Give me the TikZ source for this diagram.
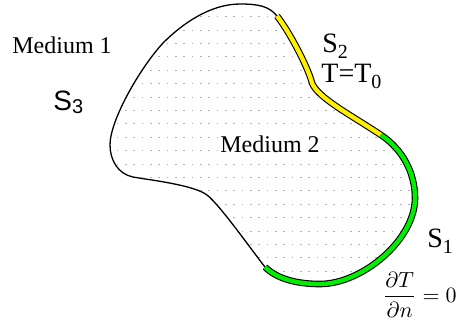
\documentclass[tikz,border=0pt]{standalone}
\usepackage{amsmath}
\usepackage{fontspec}
\setmainfont{Liberation Serif}
\newfontfamily\arialfont{Liberation Sans}
\usetikzlibrary{calc}
\definecolor{bandyellow}{RGB}{255,240,0}
\definecolor{bandgreen}{RGB}{0,238,0}
\definecolor{dotgray}{RGB}{175,175,175}
\newcommand{\lowsub}[3][10]{\raisebox{-#2}{\fontsize{#1}{#1}\selectfont #3}}
% pieces of the boundary (start point given where used)
\newcommand{\yellowpart}{.. controls (289,31) and (308,67) .. (p2) .. controls (318,98) and (351,115) .. (p3)}
\newcommand{\greenpart}{.. controls (402,149) and (415,172) .. (p4) .. controls (415,240) and (362,284) .. (p5) .. controls (295,284) and (276,278) .. (p6)}
\newcommand{\blackpart}{.. controls (253,252) and (220,205) .. (p7) .. controls (194,185) and (150,180) .. (p8) .. controls (118,174) and (110,160) .. (p9) .. controls (110,120) and (140,68) .. (p10) .. controls (182,24) and (210,4) .. (p11) .. controls (258,4) and (269,6) .. (p1)}

\begin{document}
\begin{tikzpicture}[x=0.5pt,y=-0.5pt,
    lbl/.style={inner sep=0pt,font=\rmfamily\fontsize{12}{14}\selectfont},
    biglbl/.style={inner sep=0pt,anchor=base west,font=\rmfamily\fontsize{14}{16}\selectfont},
    band/.style={line width=3.3pt},
    dotrow/.style={dotgray,line width=0.5pt,dash pattern=on 0.8pt off 3.365pt}]
\useasboundingbox (0,0) rectangle (459,329);
\coordinate (p1) at (277,16);
\coordinate (p2) at (312,83);
\coordinate (p3) at (381,135);
\coordinate (p4) at (415,198);
\coordinate (p5) at (320,284);
\coordinate (p6) at (265,267);
\coordinate (p7) at (207,195);
\coordinate (p8) at (133,177);
\coordinate (p9) at (110,145);
\coordinate (p10) at (163,43);
\coordinate (p11) at (240,4);
% dotted inside of medium 2
\begin{scope}
  \clip (p1) \yellowpart \greenpart \blackpart -- cycle;
  \foreach \k in {0,...,20}
    \draw[dotrow] (58.4,{16.7+13.4*\k}) -- (440,{16.7+13.4*\k});
\end{scope}
\draw[line width=0.65pt] (p6) \blackpart;
\draw[band] (p1) \yellowpart;
\draw[band,line width=2.2pt,bandyellow] (p1) \yellowpart;
\draw[band] (p3) \greenpart;
\draw[band,line width=2.2pt,bandgreen] (p3) \greenpart;
% labels
\node[lbl,anchor=base] (med1) at (62,53) {Medium 1};
\node[inner sep=0pt,anchor=base west,font=\arialfont\fontsize{14}{16}\selectfont] (s3) at (53,110) {S\lowsub{1.5pt}{3}};
\node[lbl,anchor=base west,fill=white] (med2) at (220,152) {Medium 2};
\node[biglbl] (s2) at (322,52) {S\lowsub{3pt}{2}};
\node[biglbl] (tt) at (321,82) {T=T\lowsub{3pt}{0}};
\node[biglbl] (s1) at (427,247) {S\lowsub{3pt}{1}};
\node[inner sep=0pt,anchor=base east,font=\fontsize{11}{13}\selectfont] (dtdn) at (457,302) {$\dfrac{\partial T}{\partial n}=0$};
\end{tikzpicture}
\end{document}
